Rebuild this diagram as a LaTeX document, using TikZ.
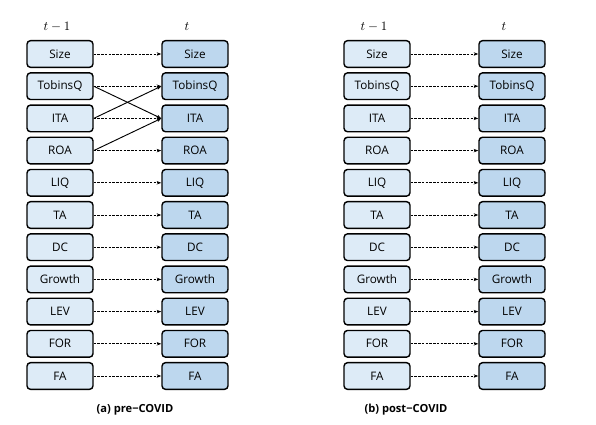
\documentclass[tikz,border=0pt]{standalone}
\usepackage{fontspec}
\setmainfont{Open Sans}
\usetikzlibrary{arrows.meta,positioning}
\definecolor{lagblue}{HTML}{DDEBF7}
\definecolor{curblue}{HTML}{BDD7EE}

\begin{document}
\begin{tikzpicture}[
  x=1cm, y=1cm,
  font=\fontsize{10}{12}\selectfont,
  >={Stealth[length=4pt,width=3pt]},
  var/.style={draw=black, line width=1.2pt, rounded corners=3pt,
    minimum width=1.98cm, minimum height=0.8cm, inner sep=0pt},
  lagbox/.style={var, fill=lagblue},
  curbox/.style={var, fill=curblue},
  persist/.style={->, dash pattern=on 2pt off 1.2pt, line width=0.7pt},
  cross/.style={->, line width=0.8pt},
  period/.style={font=\fontsize{11}{13}\selectfont},
  caption/.style={font=\fontsize{9.5}{11}\selectfont\bfseries},
]
\useasboundingbox (0,0) rectangle (17.88,12.72);

% ---------- two panels, 0.966 cm per row ----------
\foreach \p/\dx in {a/0, b/9.51} {
  \begin{scope}[shift={(\dx,0)}]
    \node[period] (\p-tl) at (1.71,11.91) {$t-1$};
    \node[period] (\p-tc) at (5.61,11.91) {$t$};
    \foreach \v [count=\i from 0] in {Size,TobinsQ,ITA,ROA,LIQ,TA,DC,Growth,LEV,FOR,FA} {
      \node[lagbox] (\p-l\i) at (1.80,{11.10-0.966*\i}) {\v};
      \node[curbox] (\p-r\i) at (5.85,{11.10-0.966*\i}) {\v};
      \draw[persist] (\p-l\i.east) -- (\p-r\i.west);
    }
  \end{scope}
}

% ---------- cross effects, pre-COVID only ----------
\draw[cross] (a-l1.east) -- (a-r2.west);
\draw[cross] (a-l2.east) -- (a-r1.west);
\draw[cross] (a-l3.east) -- (a-r2.west);

\node[caption] (a-cap) at (4.05,0.42) {(a) pre−COVID};
\node[caption] (b-cap) at (12.18,0.42) {(b) post−COVID};
\end{tikzpicture}
\end{document}
